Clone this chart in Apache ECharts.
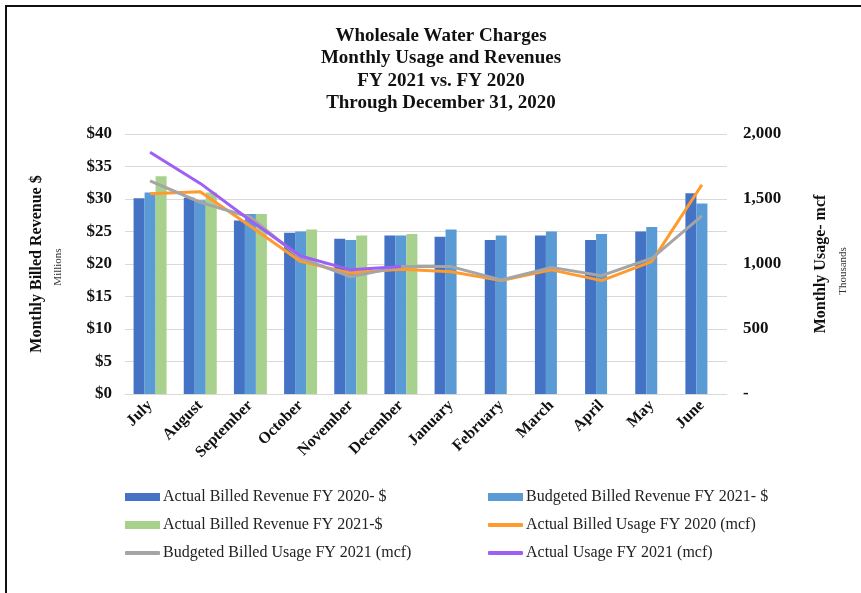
<!DOCTYPE html>
<html>
<head>
<meta charset="utf-8">
<script src="https://cdn.jsdelivr.net/npm/echarts@6/dist/echarts.min.js"></script>
<style>
  html, body { margin: 0; padding: 0; background: #fff; }
  #frame {
    position: absolute; left: 5px; top: 5px; width: 870px; height: 600px;
    border-left: 2px solid #111; border-top: 2px solid #111;
  }
  #chart { position: absolute; left: 0; top: 0; width: 861px; height: 593px; }
</style>
</head>
<body>
<div id="frame"></div>
<div id="chart"></div>
<script>
var months = ["July", "August", "September", "October", "November", "December",
  "January", "February", "March", "April", "May", "June"];

// revenue, $ millions
var actualRev2020 = [30.1, 30.2, 26.7, 24.8, 23.9, 24.4, 24.2, 23.7, 24.4, 23.7, 25.0, 30.9];
var budgetRev2021 = [31.0, 29.8, 27.7, 25.0, 23.7, 24.4, 25.3, 24.4, 25.0, 24.6, 25.7, 29.3];
var actualRev2021 = [33.5, 31.0, 27.7, 25.3, 24.4, 24.6, null, null, null, null, null, null];

// usage, thousand mcf
var actualUse2020 = [1540, 1555, 1290, 1020, 930, 960, 940, 872, 955, 872, 1018, 1610];
var budgetUse2021 = [1640, 1475, 1360, 1045, 902, 980, 980, 877, 974, 910, 1044, 1370];
var actualUse2021 = [1860, 1620, 1335, 1062, 955, 980, null, null, null, null, null, null];

var serif = "'Liberation Serif', 'DejaVu Serif', serif";

var chart = echarts.init(document.getElementById("chart"));

function legendItem(name, left, top, icon, h) {
  return {
    data: [name], left: left, top: top, icon: icon, padding: 0,
    itemWidth: 35, itemHeight: h, itemGap: 4, selectedMode: false,
    textStyle: { fontFamily: serif, fontSize: 16, color: "#222", padding: [0, 0, 0, -2] }
  };
}

var option = {
  animation: false,
  title: {
    text: "Wholesale Water Charges\nMonthly Usage and Revenues\nFY 2021 vs. FY 2020\nThrough December 31, 2020",
    left: 436, top: 20, textAlign: "center",
    textStyle: { fontFamily: serif, fontWeight: "bold", fontSize: 19, lineHeight: 22.3, color: "#111" }
  },
  legend: [
    legendItem("Actual Billed Revenue FY 2020- $", 125, 489, "rect", 8),
    legendItem("Budgeted Billed Revenue FY 2021- $", 488, 489, "rect", 8),
    legendItem("Actual Billed Revenue FY 2021-$", 125, 517, "rect", 8),
    legendItem("Actual Billed Usage FY 2020 (mcf)", 488, 517, "roundRect", 4),
    legendItem("Budgeted Billed Usage FY 2021 (mcf)", 125, 545, "roundRect", 4),
    legendItem("Actual Usage FY 2021 (mcf)", 488, 545, "roundRect", 4)
  ],
  grid: { left: 125, right: 134, top: 134, bottom: 199 },
  xAxis: {
    type: "category",
    data: months,
    axisTick: { show: false },
    axisLine: { lineStyle: { color: "#d9d9d9", width: 1 } },
    axisLabel: {
      rotate: 45, interval: 0, margin: 9,
      fontFamily: serif, fontWeight: "bold", fontSize: 16, color: "#111"
    }
  },
  yAxis: [
    {
      type: "value", min: 0, max: 40, interval: 5,
      name: "Monthly Billed Revenue $",
      nameLocation: "middle", nameGap: 80,
      nameTextStyle: { fontFamily: serif, fontWeight: "bold", fontSize: 16, color: "#111" },
      axisLabel: {
        formatter: "${value}", margin: 13,
        fontFamily: serif, fontWeight: "bold", fontSize: 17, color: "#111"
      },
      splitLine: { lineStyle: { color: "#d9d9d9", width: 1 } },
      axisLine: { show: false }, axisTick: { show: false }
    },
    {
      type: "value", min: 0, max: 2000, interval: 500,
      name: "Monthly Usage- mcf",
      nameLocation: "middle", nameGap: 86, nameRotate: 90,
      nameTextStyle: { fontFamily: serif, fontWeight: "bold", fontSize: 16, color: "#111" },
      axisLabel: {
        formatter: function (v) { return v === 0 ? "-" : v.toLocaleString("en-US"); },
        margin: 16,
        fontFamily: serif, fontWeight: "bold", fontSize: 17, color: "#111"
      },
      splitLine: { show: false },
      axisLine: { show: false }, axisTick: { show: false }
    }
  ],
  graphic: [
    {
      type: "text", x: 58, y: 267, rotation: Math.PI / 2,
      style: { text: "Millions", fontFamily: serif, fontSize: 11, fill: "#333",
        align: "center", verticalAlign: "middle" }
    },
    {
      type: "text", x: 843, y: 271, rotation: Math.PI / 2,
      style: { text: "Thousands", fontFamily: serif, fontSize: 11, fill: "#333",
        align: "center", verticalAlign: "middle" }
    }
  ],
  series: [
    { name: "Actual Billed Revenue FY 2020- $", type: "bar", data: actualRev2020,
      barWidth: 11, barGap: "0%", itemStyle: { color: "#4472C4" } },
    { name: "Budgeted Billed Revenue FY 2021- $", type: "bar", data: budgetRev2021,
      barWidth: 11, barGap: "0%", itemStyle: { color: "#5B9BD5" } },
    { name: "Actual Billed Revenue FY 2021-$", type: "bar", data: actualRev2021,
      barWidth: 11, barGap: "0%", itemStyle: { color: "#A9D18E" } },
    { name: "Actual Billed Usage FY 2020 (mcf)", type: "line", yAxisIndex: 1, data: actualUse2020,
      symbol: "none", lineStyle: { color: "#FF9A2E", width: 3 }, itemStyle: { color: "#FF9A2E" } },
    { name: "Budgeted Billed Usage FY 2021 (mcf)", type: "line", yAxisIndex: 1, data: budgetUse2021,
      symbol: "none", lineStyle: { color: "#A5A5A5", width: 3 }, itemStyle: { color: "#A5A5A5" } },
    { name: "Actual Usage FY 2021 (mcf)", type: "line", yAxisIndex: 1, data: actualUse2021,
      symbol: "none", lineStyle: { color: "#9E5FF5", width: 3 }, itemStyle: { color: "#9E5FF5" } }
  ]
};

chart.setOption(option);
</script>
</body>
</html>
